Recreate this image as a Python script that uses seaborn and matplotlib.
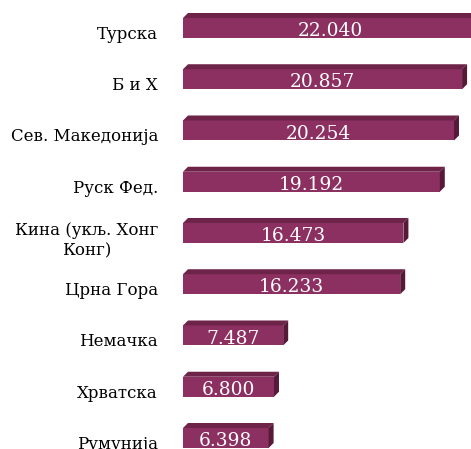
import matplotlib
matplotlib.use("Agg")
import matplotlib.pyplot as plt
import matplotlib.transforms as mtransforms
from matplotlib.patches import Polygon
import seaborn as sns
import pandas as pd

# Податоци
zemje = ["Турска", "Б и Х", "Сев. Македонија", "Руск Фед.",
         "Кина (укљ. Хонг\nКонг)", "Црна Гора", "Немачка", "Хрватска", "Румунија"]
vrednosti = [22.040, 20.857, 20.254, 19.192, 16.473, 16.233, 7.487, 6.800, 6.398]
natpisi = ["22.040", "20.857", "20.254", "19.192", "16.473", "16.233", "7.487", "6.800", "6.398"]

df = pd.DataFrame({"zemja": zemje, "vrednost": vrednosti})

sns.set_style("white")
plt.rcParams["font.family"] = ["DejaVu Serif", "Liberation Serif"]

boja = "#8c3062"
boja_gore = "#6e2348"
boja_strana = "#561a38"

fig = plt.figure(figsize=(4.71, 4.49), dpi=100)
ax = fig.add_axes([183 / 471, 0, 288 / 471, 1])

sns.barplot(data=df, x="vrednost", y="zemja", orient="h", color=boja,
            width=0.39, saturation=1, ax=ax, edgecolor="none")

ax.set_xlim(0, 288 / 13.38)
ax.set_ylim(8.215, -0.546)

# 3D ефект: горна и десна страна
dx = 5 / 13.38
dy = 5 / 51.25
for p in ax.patches[:]:
    x0, y0 = p.get_x(), p.get_y()
    w, h = p.get_width(), p.get_height()
    top = Polygon([(x0, y0), (x0 + dx, y0 - dy), (x0 + w + dx, y0 - dy), (x0 + w, y0)],
                  closed=True, facecolor=boja_gore, edgecolor="none", clip_on=False)
    side = Polygon([(x0 + w, y0), (x0 + w + dx, y0 - dy), (x0 + w + dx, y0 + h - dy), (x0 + w, y0 + h)],
                   closed=True, facecolor=boja_strana, edgecolor="none")
    ax.add_patch(top)
    ax.add_patch(side)

for i, (v, t) in enumerate(zip(vrednosti, natpisi)):
    ax.text(v / 2, i + 0.06, t, ha="center", va="center", color="white", fontsize=13.4)

ax.set_xlabel("")
ax.set_ylabel("")
ax.set_xticks([])
ax.tick_params(axis="y", length=0, pad=18, labelsize=12, labelcolor="black")
pomak = mtransforms.ScaledTranslation(0, -4.5 / 100, fig.dpi_scale_trans)
for lbl in ax.get_yticklabels():
    lbl.set_multialignment("center")
    lbl.set_transform(lbl.get_transform() + pomak)
sns.despine(ax=ax, left=True, bottom=True)

fig.savefig("out.png", dpi=100)
